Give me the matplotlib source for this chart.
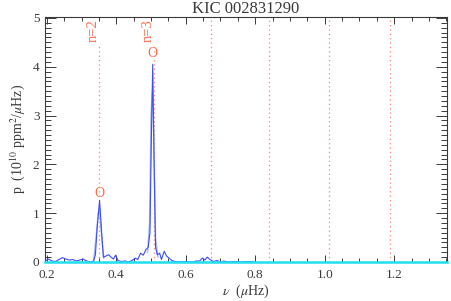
import matplotlib
matplotlib.use("Agg")
import matplotlib.pyplot as plt
from matplotlib.ticker import MultipleLocator

# ---- data ----
freq = [0.195, 0.205, 0.215, 0.225, 0.235, 0.245, 0.255, 0.265, 0.275, 0.285,
        0.295, 0.305, 0.315, 0.325, 0.335, 0.340, 0.345, 0.352, 0.358, 0.363,
        0.370, 0.378, 0.385, 0.392, 0.398, 0.405, 0.415, 0.425, 0.435, 0.445,
        0.455, 0.462, 0.470, 0.478, 0.485, 0.492, 0.497, 0.501, 0.505, 0.509,
        0.513, 0.518, 0.525, 0.530, 0.538, 0.545, 0.552, 0.560, 0.570, 0.580,
        0.600, 0.620, 0.630, 0.640, 0.648, 0.655, 0.662, 0.670, 0.680, 0.690,
        0.700, 0.710, 0.720, 0.740, 0.760, 0.780, 0.800]
power = [0.02, 0.06, 0.02, 0.01, 0.05, 0.09, 0.06, 0.04, 0.05, 0.02,
         0.04, 0.06, 0.02, 0.00, 0.02, 0.15, 0.70, 1.26, 0.60, 0.10,
         0.12, 0.15, 0.10, 0.06, 0.14, 0.03, 0.01, 0.02, 0.00, 0.03,
         0.08, 0.05, 0.18, 0.14, 0.25, 0.30, 0.60, 2.50, 4.05, 2.00,
         0.30, 0.15, 0.18, 0.05, 0.22, 0.12, 0.08, 0.03, 0.01, 0.00,
         0.01, 0.00, 0.02, 0.02, 0.08, 0.04, 0.10, 0.05, 0.01, 0.03,
         0.00, 0.02, 0.00, 0.01, 0.00, 0.01, 0.00]

# lighter (smoothed) spectrum around each peak
freq_light_n2 = [0.335, 0.342, 0.348, 0.352, 0.357, 0.364]
power_light_n2 = [0.05, 0.50, 1.00, 1.10, 0.60, 0.08]
freq_light_n3 = [0.490, 0.496, 0.500, 0.504, 0.508, 0.513, 0.520]
power_light_n3 = [0.20, 0.80, 3.00, 3.50, 2.60, 0.50, 0.10]

fit_x = [0.195, 1.352]
fit_y = [0.0, 0.0]

mode_freqs = [0.3505, 0.508, 0.673, 0.840, 1.012, 1.187]
mode_labels = ["n=2", "n=3"]
peak_marks_x = [0.352, 0.505]
peak_marks_y = [1.40, 4.27]

title = "KIC 002831290"
xlabel = r"$\nu$  ($\mu$Hz)"
ylabel = r"p  (10$^{10}$ ppm$^{2}$/$\mu$Hz)"

# ---- figure ----
plt.rcParams['font.family'] = ['Liberation Serif', 'DejaVu Serif']
plt.rcParams['mathtext.fontset'] = 'stix'
fig = plt.figure(figsize=(4.52, 3.01), dpi=100)
ax = fig.add_axes([0.0996, 0.1296, 0.8894, 0.8140])

txtc = '#3a3a3a'
red = '#ff6a4d'
dotred = '#ff8468'

for i, mf in enumerate(mode_freqs):
    top = 4.45 if i < 2 else 5.1
    ax.plot([mf, mf], [0, top], linestyle=(0, (1, 2.5)), color=dotred, lw=0.9, zorder=1)

ax.plot(freq_light_n2, power_light_n2, color='#a8b4ff', lw=1.0, zorder=2)
ax.plot(freq_light_n3, power_light_n3, color='#a8b4ff', lw=1.0, zorder=2)
ax.plot(freq, power, color='#3a4cff', lw=0.8, zorder=3)
ax.plot(fit_x, fit_y, color='#22e0f0', lw=1.8, zorder=4, clip_on=False)

for i, lab in enumerate(mode_labels):
    ax.text(mode_freqs[i] + 0.003, 4.97, lab, rotation=90, ha='right', va='top',
            color=red, fontsize=10.5)
for px, py in zip(peak_marks_x, peak_marks_y):
    ax.text(px, py, "O", ha='center', va='center', color=red, fontsize=10)

ax.set_xlim(0.195, 1.352)
ax.set_ylim(0, 5.02)
ax.xaxis.set_major_locator(MultipleLocator(0.2))
ax.xaxis.set_minor_locator(MultipleLocator(0.05))
ax.yaxis.set_major_locator(MultipleLocator(1))
ax.yaxis.set_minor_locator(MultipleLocator(0.1))
ax.tick_params(which='both', direction='in', top=True, right=True,
               colors=txtc, labelsize=9.5, width=0.7)
ax.tick_params(axis='x', which='major', length=5, pad=5)
ax.tick_params(axis='x', which='minor', length=3)
ax.tick_params(axis='y', which='major', length=8, pad=4)
ax.tick_params(axis='y', which='minor', length=4)
for s in ax.spines.values():
    s.set_color(txtc)
    s.set_linewidth(0.8)

ax.xaxis.set_major_formatter(plt.FuncFormatter(lambda v, p: f"{v:.1f}"))
ax.yaxis.set_major_formatter(plt.FuncFormatter(lambda v, p: f"{v:.0f}"))

ax.set_title(title, fontsize=12, color=txtc, pad=3)
ax.set_xlabel(xlabel, fontsize=10, color=txtc, labelpad=1)
ax.set_ylabel(ylabel, fontsize=10, color=txtc, labelpad=4)

fig.savefig("out.png", dpi=100)
